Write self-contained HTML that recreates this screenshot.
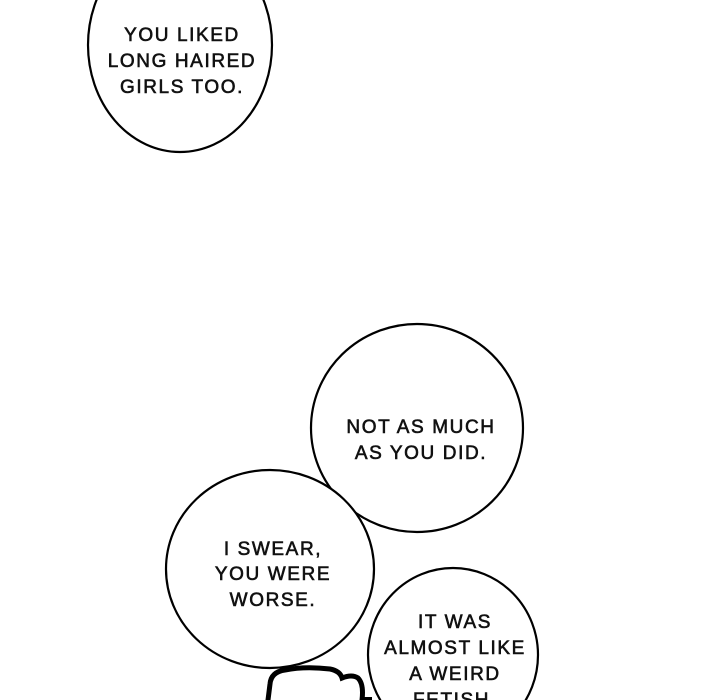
<!DOCTYPE html>
<html><head><meta charset="utf-8"><style>
html,body{margin:0;padding:0;background:#fff;width:720px;height:700px;overflow:hidden;}
svg{display:block;}
text{font-family:"Liberation Sans",sans-serif;font-size:19px;fill:#111;text-anchor:middle;stroke:#111;stroke-width:0.6;letter-spacing:1.6px;}
</style></head><body>
<svg width="720" height="700" viewBox="0 0 720 700">
<rect width="720" height="700" fill="#fff"/>
<g fill="#fff" stroke="#000" stroke-width="2.2">
<ellipse cx="180" cy="45" rx="92" ry="107"/>
<ellipse cx="417" cy="428" rx="106" ry="104"/>
<ellipse cx="270" cy="569" rx="104" ry="99"/>
<ellipse cx="453" cy="655" rx="85" ry="87"/>
</g>
<path d="M268 700 L270 684 Q271 672 285 670 Q305 666 330 669 Q340 671 342 678 Q352 674 358 678 Q364 684 362 700" fill="none" stroke="#000" stroke-width="5" stroke-linecap="round"/>
<path d="M362 699 L372 699" stroke="#000" stroke-width="4"/>
<text x="182" y="41">YOU LIKED</text>
<text x="182" y="67">LONG HAIRED</text>
<text x="182" y="93">GIRLS TOO.</text>
<text x="421" y="433">NOT AS MUCH</text>
<text x="421" y="459">AS YOU DID.</text>
<text x="273" y="555">I SWEAR,</text>
<text x="273" y="580">YOU WERE</text>
<text x="273" y="606">WORSE.</text>
<text x="455" y="628">IT WAS</text>
<text x="455" y="654">ALMOST LIKE</text>
<text x="455" y="680">A WEIRD</text>
<text x="455" y="706">FETISH.</text>
</svg>
</body></html>
